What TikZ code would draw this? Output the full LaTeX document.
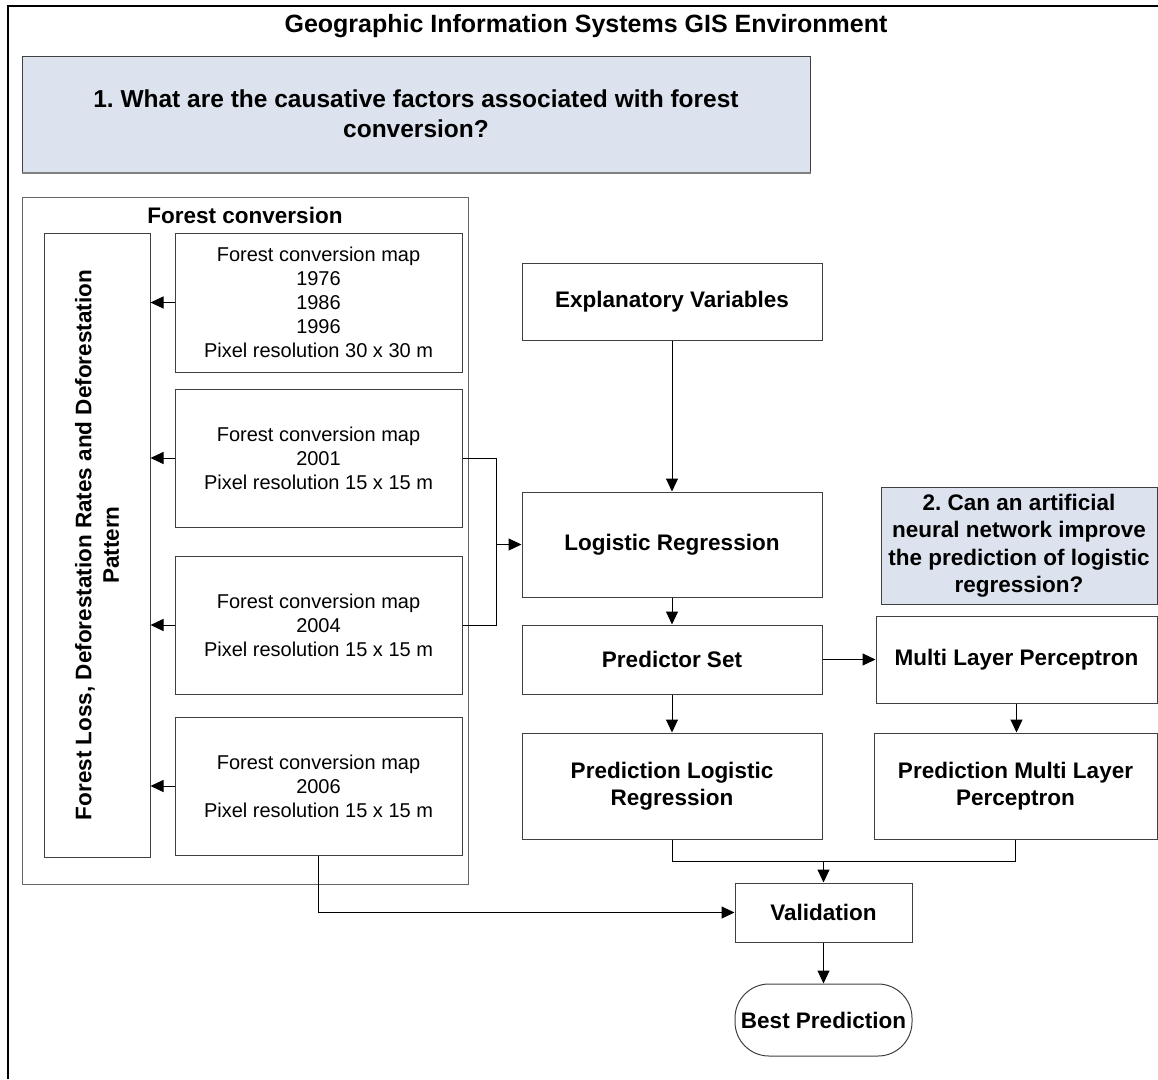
\documentclass[tikz,border=0pt]{standalone}
\usepackage{fontspec}
\setmainfont{Liberation Sans}
\usetikzlibrary{arrows.meta}
\definecolor{qfill}{HTML}{DDE3EE}
\definecolor{bord}{HTML}{404040}
\definecolor{qbot}{HTML}{7F7F7F}
\frenchspacing
\begin{document}
\begin{tikzpicture}[x=1pt,y=-1pt,
  box/.style={draw=bord, line width=1pt, fill=white, align=center, inner sep=2pt, anchor=center},
  qbox/.style={box, fill=qfill},
  bt/.style={font=\fontsize{22.5}{27.5}\selectfont\bfseries},
  rt/.style={font=\fontsize{20}{24}\selectfont},
  arr/.style={-{Triangle[length=13pt,width=12pt]}, line width=1pt},
  ln/.style={line width=1pt}]
\useasboundingbox (0,0) rectangle (1158,1079);
\draw[line width=1.5pt] (1158,6) -- (8,6) -- (8,1079);
\node[font=\fontsize{25}{30}\selectfont\bfseries] (title) at (586,26) {Geographic Information Systems GIS Environment};
% question 1
\node[qbox, font=\fontsize{24.5}{30}\selectfont\bfseries, minimum width=788pt, minimum height=116pt] (q1) at (416,114) {1. What are the causative factors associated with forest\\conversion?};
\draw[qbot, line width=2pt] (q1.south west) -- (q1.south east);
% forest conversion container
\node[box, draw=bord!80, minimum width=446pt, minimum height=687pt] (fc) at (245,540.5) {};
\node[bt] (fct) at (245,215) {Forest conversion};
\node[box, minimum width=106pt, minimum height=624pt] (vb) at (97,545) {};
\node[bt, rotate=90, align=center] (vbt) at (97,545) {Forest Loss, Deforestation Rates and Deforestation\\Pattern};
\node[box, rt, minimum width=287pt, minimum height=139pt] (m1) at (318.5,302.5) {Forest conversion map\\1976\\1986\\1996\\Pixel resolution 30 x 30 m};
\node[box, rt, minimum width=287pt, minimum height=138pt] (m2) at (318.5,458) {Forest conversion map\\2001\\Pixel resolution 15 x 15 m};
\node[box, rt, minimum width=287pt, minimum height=138pt] (m3) at (318.5,625) {Forest conversion map\\2004\\Pixel resolution 15 x 15 m};
\node[box, rt, minimum width=287pt, minimum height=138pt] (m4) at (318.5,786) {Forest conversion map\\2006\\Pixel resolution 15 x 15 m};
% right column
\node[box, bt, minimum width=300pt, minimum height=77pt] (ex) at (672,301.5) {Explanatory Variables};
\node[box, bt, minimum width=300pt, minimum height=105pt] (lr) at (672,544.5) {Logistic Regression};
\node[box, bt, minimum width=300pt, minimum height=69pt] (ps) at (672,659.5) {Predictor Set};
\node[qbox, bt, minimum width=276pt, minimum height=117pt] (q2) at (1019,545.5) {2. Can an artificial\\neural network improve\\the prediction of logistic\\regression?};
\node[box, bt, minimum width=281pt, minimum height=87pt] (mlp) at (1016.5,659.5) {Multi Layer Perceptron};
\node[box, bt, minimum width=300pt, minimum height=106pt] (plr) at (672,786) {Prediction Logistic\\Regression};
\node[box, bt, minimum width=283pt, minimum height=106pt] (pmlp) at (1015.5,786) {Prediction Multi Layer\\Perceptron};
\node[box, bt, minimum width=177pt, minimum height=59pt] (val) at (823.5,912.5) {Validation};
\node[box, bt, rounded corners=34pt, minimum width=177pt, minimum height=72pt] (best) at (823.5,1020) {Best Prediction};
% connectors
\draw[arr] (m1.west) -- (vb.east |- m1.west);
\draw[arr] (m2.west) -- (vb.east |- m2.west);
\draw[arr] (m3.west) -- (vb.east |- m3.west);
\draw[arr] (m4.west) -- (vb.east |- m4.west);
\coordinate (j) at (496,544.5);
\draw[ln] (m2.east) -| (j);
\draw[ln] (m3.east) -| (j);
\draw[arr] (j) -- (lr.west);
\draw[arr] (ex.south) -- (lr.north);
\draw[arr] (lr.south) -- (ps.north);
\draw[arr] (ps.east) -- (mlp.west);
\draw[arr] (ps.south) -- (plr.north);
\draw[arr] (mlp.south) -- (mlp.south |- pmlp.north);
\coordinate (mg) at (823.5,861);
\draw[ln] (plr.south) |- (mg);
\draw[ln] (pmlp.south) |- (mg);
\draw[arr] (mg) -- (val.north);
\draw[arr] (m4.south) |- (val.west);
\draw[arr] (val.south) -- (best.north);
\end{tikzpicture}
\end{document}
